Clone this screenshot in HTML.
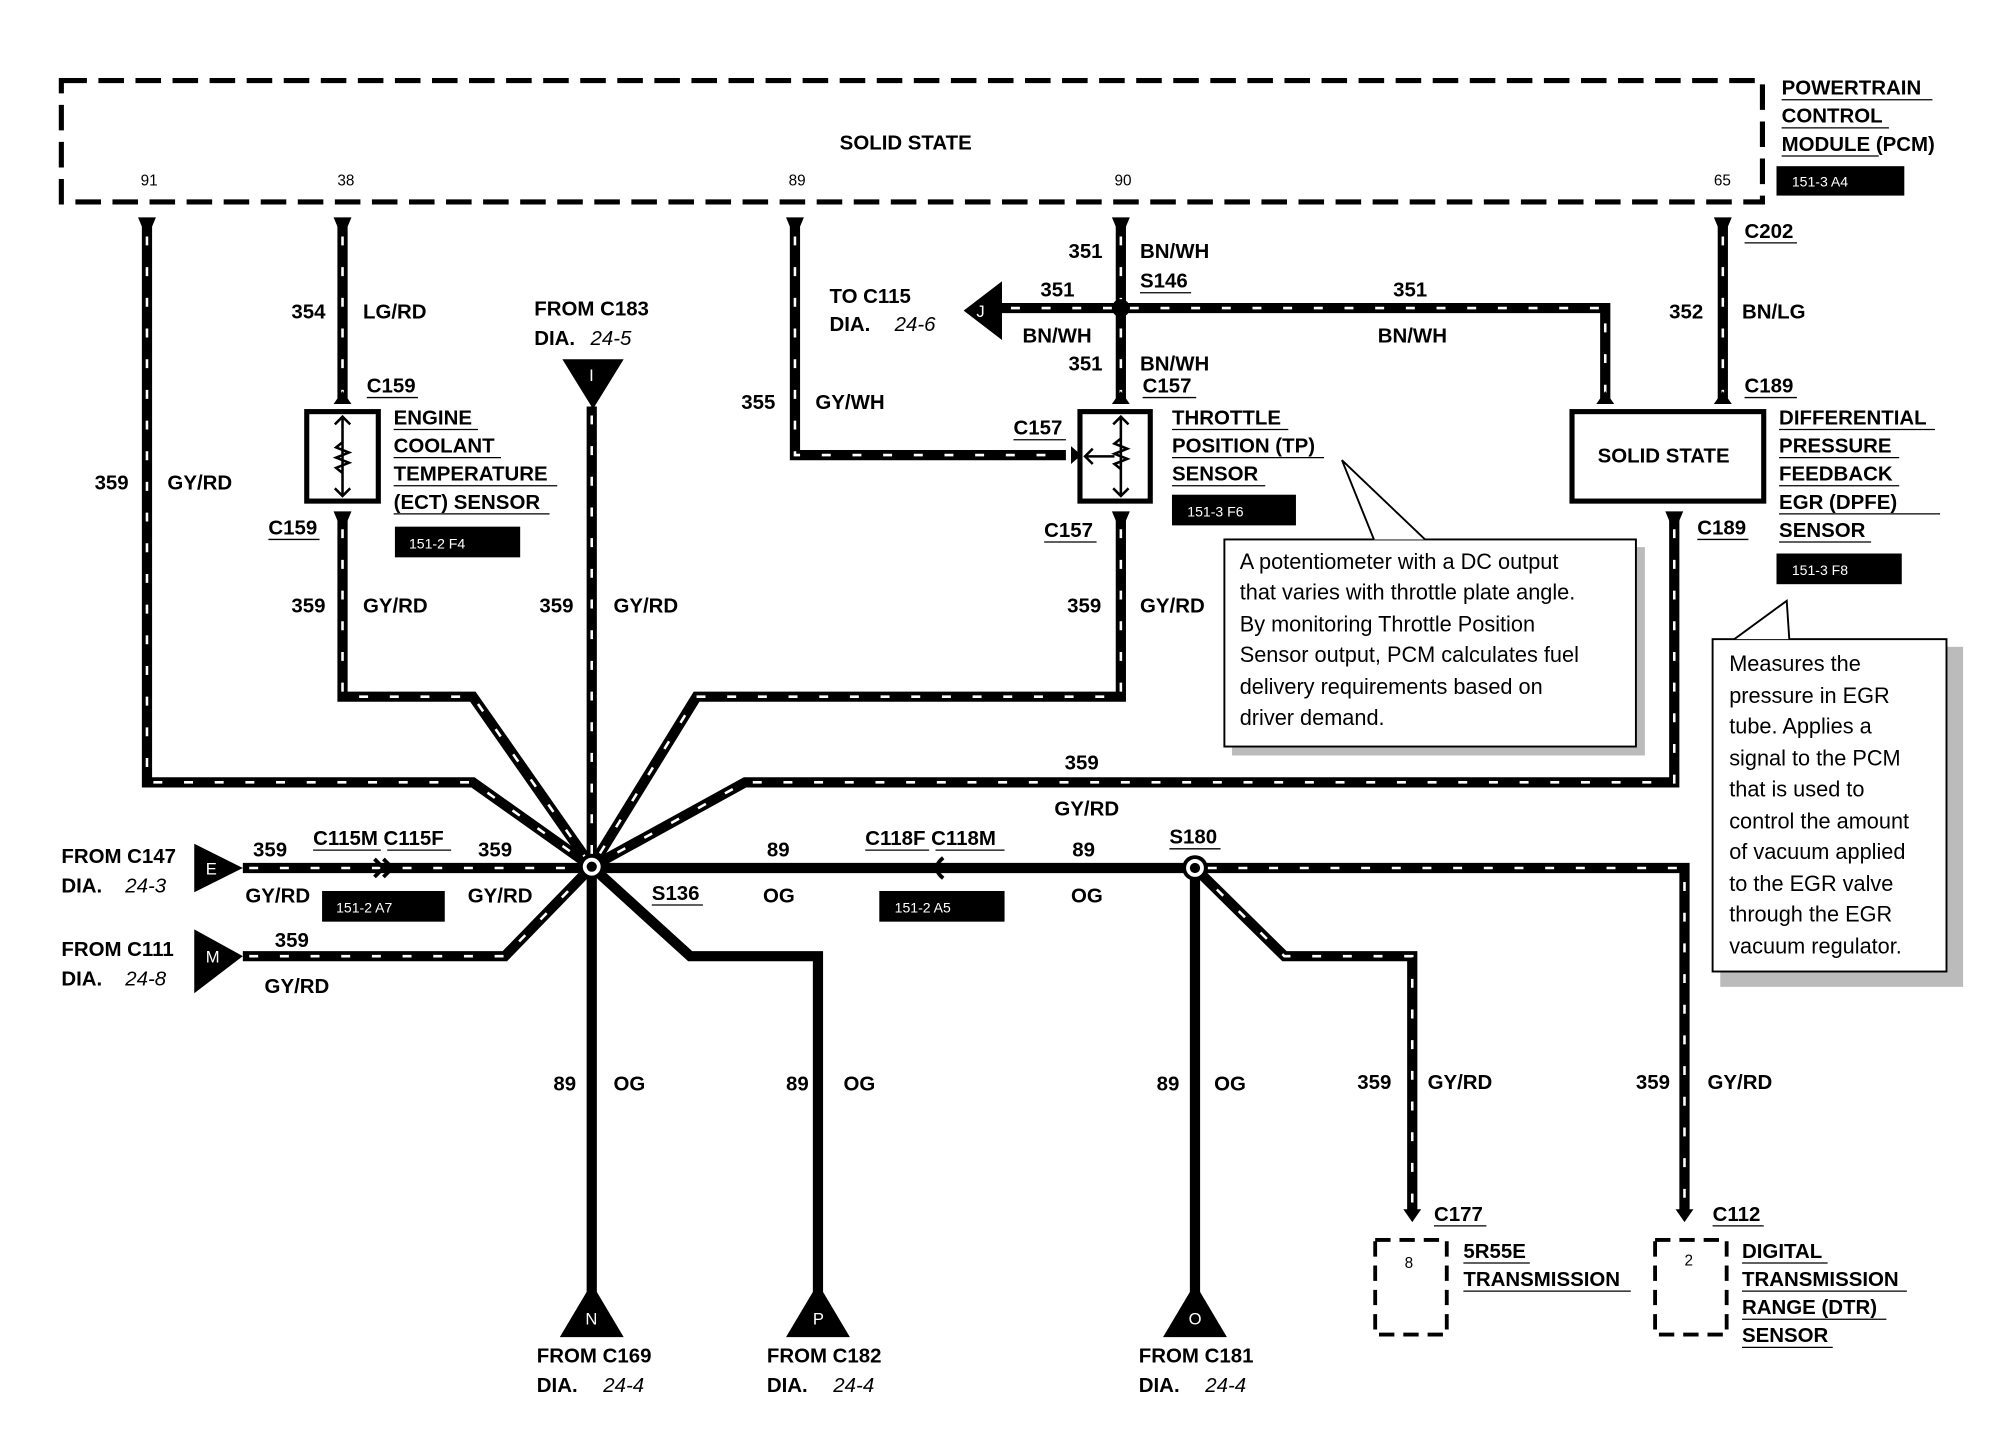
<!DOCTYPE html>
<html><head><meta charset="utf-8"><style>
html,body{margin:0;padding:0;background:#fff;}
svg{display:block;}
text{font-family:"Liberation Sans",Arial,sans-serif;font-weight:bold;font-size:16px;fill:#000;}
.n{font-weight:normal;font-size:17px;}
.i{font-style:italic;font-weight:normal;}
.w{fill:#fff;font-size:11px;font-weight:normal;}
.s{font-size:12px;font-weight:normal;}
</style></head><body>
<svg width="2004" height="1456" viewBox="0 0 1568 1139" preserveAspectRatio="none" xmlns="http://www.w3.org/2000/svg">
<!-- PCM box -->
<rect x="48" y="63" width="1331" height="95" fill="none" stroke="#000" stroke-width="4" stroke-dasharray="20 9"/>
<text x="657" y="117">SOLID STATE</text>
<text class="s" x="110" y="145">91</text><text class="s" x="264" y="145">38</text>
<text class="s" x="617" y="145">89</text><text class="s" x="872" y="145">90</text>
<text class="s" x="1341" y="145">65</text>
<text x="1394" y="74">POWERTRAIN</text><text x="1394" y="96">CONTROL</text><text x="1394" y="118">MODULE (PCM)</text>
<g stroke="#000" stroke-width="1"><line x1="1394" y1="78" x2="1512" y2="78"/><line x1="1394" y1="100" x2="1478" y2="100"/><line x1="1394" y1="122" x2="1470" y2="122"/></g>
<rect x="1390" y="130" width="100" height="23" fill="#000"/><text class="w" x="1402" y="146">151-3 A4</text>

<g fill="none" stroke-linejoin="miter">
<g stroke="#000" stroke-width="8">
<path d="M115,175 V612 H370 L463,678"/>
<path d="M268,175 V312 M268,404 V545 H370 L463,678"/>
<path d="M622,175 V356 H834"/>
<path d="M877,175 V312 M877,241 H780 M877,241 H1256 V312 M877,404 V545 H545 L463,678"/>
<path d="M1348,175 V312"/>
<path d="M1310,404 V612 H583 L463,678"/>
<path d="M463,318 V678"/>
<path d="M190,679 H463"/>
<path d="M190,748 H395 L463,678"/>
<path d="M935,679 H1318 V948"/>
<path d="M935,679 L1005,748 H1105 V948"/>
</g>
<g stroke="#fff" stroke-width="2" stroke-dasharray="7 17">
<path d="M115,185 V612 H370 L463,678"/>
<path d="M268,185 V312 M268,414 V545 H370 L463,678"/>
<path d="M622,185 V356 H834"/>
<path d="M877,185 V312 M870,241 H790 M884,241 H1256 V312 M877,414 V545 H545 L463,678"/>
<path d="M1348,185 V312"/>
<path d="M1310,414 V612 H583 L463,678"/>
<path d="M463,325 V678"/>
<path d="M195,679 H463"/>
<path d="M195,748 H395 L463,678"/>
<path d="M945,679 H1318 V948"/>
<path d="M935,679 L1005,748 H1105 V948"/>
</g>
<g stroke="#000" stroke-width="8">
<path d="M463,679 H935"/>
<path d="M463,678 V1020"/>
<path d="M463,678 L540,748 H640 V1020"/>
<path d="M935,679 V1020"/>
</g>
</g>
<g fill="#000">
<path d="M108,170 L122,170 L117,182 L113,182Z"/><path d="M261,170 L275,170 L270,182 L266,182Z"/>
<path d="M615,170 L629,170 L624,182 L620,182Z"/><path d="M870,170 L884,170 L879,182 L875,182Z"/>
<path d="M1341,170 L1355,170 L1350,182 L1346,182Z"/>
<path d="M261,400 L275,400 L270,412 L266,412Z"/><path d="M870,400 L884,400 L879,412 L875,412Z"/>
<path d="M1303,400 L1317,400 L1312,412 L1308,412Z"/>
<path d="M261,316 L268,306 L275,316Z"/><path d="M870,316 L877,306 L884,316Z"/>
<path d="M1249,316 L1256,306 L1263,316Z"/><path d="M1341,316 L1348,306 L1355,316Z"/>
<path d="M838,349 L846,356 L838,363Z"/>
<path d="M1098,946 L1105,956 L1112,946Z"/><path d="M1311,946 L1318,956 L1325,946Z"/>
</g>
<circle cx="877" cy="241" r="7" fill="#000"/>
<circle cx="463" cy="678" r="10" fill="#000"/><circle cx="463" cy="678" r="7" fill="#fff"/><circle cx="463" cy="678" r="4" fill="#000"/>
<circle cx="935" cy="679" r="10" fill="#000"/><circle cx="935" cy="679" r="7" fill="#fff"/><circle cx="935" cy="679" r="4" fill="#000"/>
<path d="M293,672 L300,679 L293,686 M300,672 L307,679 L300,686" fill="none" stroke="#000" stroke-width="3"/>
<path d="M738,671 Q728,679 738,687" fill="none" stroke="#000" stroke-width="3"/>
<rect x="240" y="322" width="56" height="70" fill="#fff" stroke="#000" stroke-width="4"/>
<path d="M268,326 V388 M262,332 L268,326 L274,332 M262,382 L268,388 L274,382 M268,346 l-5,4 l10,4 l-10,4 l10,4 l-10,4 l5,4" fill="none" stroke="#000" stroke-width="2"/>
<rect x="845" y="322" width="55" height="70" fill="#fff" stroke="#000" stroke-width="4"/>
<path d="M877,326 V388 M871,332 L877,326 L883,332 M871,382 L877,388 L883,382 M877,343 l-5,4 l10,4 l-10,4 l10,4 l-10,4 l5,4 M849,357 H872 M855,351 L849,357 L855,363" fill="none" stroke="#000" stroke-width="2"/>
<rect x="1230" y="322" width="150" height="70" fill="#fff" stroke="#000" stroke-width="4"/>
<text x="1250" y="362">SOLID STATE</text>
<path d="M440,281 L488,281 L464,320Z" fill="#000"/><text class="w" x="461" y="298" style="font-size:13px">I</text>
<path d="M784,220 L784,266 L754,243Z" fill="#000"/><text class="w" x="764" y="248" style="font-size:13px">J</text>
<path d="M152,660 L152,698 L190,679Z" fill="#000"/><text class="w" x="161" y="684" style="font-size:13px">E</text>
<path d="M152,727 L152,777 L190,748Z" fill="#000"/><text class="w" x="161" y="753" style="font-size:13px">M</text>
<path d="M438,1046 L488,1046 L463,1004Z" fill="#000"/><text class="w" x="458" y="1036" style="font-size:13px">N</text>
<path d="M615,1046 L665,1046 L640,1004Z" fill="#000"/><text class="w" x="636" y="1036" style="font-size:13px">P</text>
<path d="M910,1046 L960,1046 L935,1004Z" fill="#000"/><text class="w" x="930" y="1036" style="font-size:13px">O</text>
<rect x="1076" y="970" width="56" height="74" fill="none" stroke="#000" stroke-width="3" stroke-dasharray="12 7"/><text class="s" x="1099" y="992">8</text>
<rect x="1295" y="970" width="56" height="74" fill="none" stroke="#000" stroke-width="3" stroke-dasharray="12 7"/><text class="s" x="1318" y="990">2</text>
<rect x="964" y="428" width="323" height="163" fill="#bbb"/>
<rect x="958" y="422" width="322" height="162" fill="#fff" stroke="#000" stroke-width="1.5"/>
<path d="M1075,422 L1050,360 L1115,422" fill="#fff" stroke="#000" stroke-width="1.5"/>
<text class="n" x="970" y="445">A potentiometer with a DC output</text><text class="n" x="970" y="469">that varies with throttle plate angle.</text><text class="n" x="970" y="494">By monitoring Throttle Position</text><text class="n" x="970" y="518">Sensor output, PCM calculates fuel</text><text class="n" x="970" y="543">delivery requirements based on</text><text class="n" x="970" y="567">driver demand.</text>
<rect x="1346" y="506" width="190" height="266" fill="#bbb"/>
<rect x="1340" y="500" width="183" height="260" fill="#fff" stroke="#000" stroke-width="1.5"/>
<path d="M1357,500 L1398,470 L1400,500" fill="#fff" stroke="#000" stroke-width="1.5"/>
<text class="n" x="1353" y="525">Measures the</text><text class="n" x="1353" y="550">pressure in EGR</text><text class="n" x="1353" y="574">tube. Applies a</text><text class="n" x="1353" y="599">signal to the PCM</text><text class="n" x="1353" y="623">that is used to</text><text class="n" x="1353" y="648">control the amount</text><text class="n" x="1353" y="672">of vacuum applied</text><text class="n" x="1353" y="697">to the EGR valve</text><text class="n" x="1353" y="721">through the EGR</text><text class="n" x="1353" y="746">vacuum regulator.</text>
<text x="228" y="249">354</text><text x="284" y="249">LG/RD</text>
<text x="287" y="307">C159</text><text x="210" y="418">C159</text>
<text x="308" y="332">ENGINE</text><text x="308" y="354">COOLANT</text><text x="308" y="376">TEMPERATURE</text><text x="308" y="398">(ECT) SENSOR</text>
<rect x="309" y="412" width="98" height="24" fill="#000"/><text class="w" x="320" y="429">151-2 F4</text>
<text x="74" y="383">359</text><text x="131" y="383">GY/RD</text>
<text x="228" y="479">359</text><text x="284" y="479">GY/RD</text>
<text x="422" y="479">359</text><text x="480" y="479">GY/RD</text>
<text x="418" y="247">FROM C183</text><text x="418" y="270">DIA.</text><text class="i" x="462" y="270">24-5</text>
<text x="649" y="237">TO C115</text><text x="649" y="259">DIA.</text><text class="i" x="700" y="259">24-6</text>
<text x="580" y="320">355</text><text x="638" y="320">GY/WH</text>
<text x="836" y="202">351</text><text x="892" y="202">BN/WH</text><text x="892" y="225">S146</text>
<text x="814" y="232">351</text><text x="800" y="268">BN/WH</text>
<text x="1090" y="232">351</text><text x="1078" y="268">BN/WH</text>
<text x="836" y="290">351</text><text x="892" y="290">BN/WH</text><text x="894" y="307">C157</text>
<text x="793" y="340">C157</text><text x="817" y="420">C157</text>
<text x="917" y="332">THROTTLE</text><text x="917" y="354">POSITION (TP)</text><text x="917" y="376">SENSOR</text>
<rect x="917" y="387" width="97" height="24" fill="#000"/><text class="w" x="929" y="404">151-3 F6</text>
<text x="835" y="479">359</text><text x="892" y="479">GY/RD</text>
<text x="1365" y="186">C202</text><text x="1306" y="249">352</text><text x="1363" y="249">BN/LG</text>
<text x="1365" y="307">C189</text><text x="1328" y="418">C189</text>
<text x="1392" y="332">DIFFERENTIAL</text><text x="1392" y="354">PRESSURE</text><text x="1392" y="376">FEEDBACK</text><text x="1392" y="398">EGR (DPFE)</text><text x="1392" y="420">SENSOR</text>
<rect x="1390" y="433" width="98" height="24" fill="#000"/><text class="w" x="1402" y="450">151-3 F8</text>
<text x="833" y="602">359</text><text x="825" y="638">GY/RD</text>
<text x="48" y="675">FROM C147</text><text x="48" y="698">DIA.</text><text class="i" x="98" y="698">24-3</text>
<text x="198" y="670">359</text><text x="192" y="706">GY/RD</text>
<text x="245" y="661">C115M C115F</text>
<text x="374" y="670">359</text><text x="366" y="706">GY/RD</text>
<rect x="252" y="697" width="96" height="24" fill="#000"/><text class="w" x="263" y="714">151-2 A7</text>
<text x="48" y="748">FROM C111</text><text x="48" y="771">DIA.</text><text class="i" x="98" y="771">24-8</text>
<text x="215" y="741">359</text><text x="207" y="777">GY/RD</text>
<text x="510" y="704">S136</text>
<text x="600" y="670">89</text><text x="597" y="706">OG</text>
<text x="677" y="661">C118F C118M</text>
<rect x="688" y="697" width="98" height="24" fill="#000"/><text class="w" x="700" y="714">151-2 A5</text>
<text x="839" y="670">89</text><text x="838" y="706">OG</text>
<text x="915" y="660">S180</text>
<text x="433" y="853">89</text><text x="480" y="853">OG</text>
<text x="615" y="853">89</text><text x="660" y="853">OG</text>
<text x="905" y="853">89</text><text x="950" y="853">OG</text>
<text x="1062" y="852">359</text><text x="1117" y="852">GY/RD</text>
<text x="1280" y="852">359</text><text x="1336" y="852">GY/RD</text>
<text x="1122" y="955">C177</text><text x="1340" y="955">C112</text>
<text x="1145" y="984">5R55E</text><text x="1145" y="1006">TRANSMISSION</text>
<text x="1363" y="984">DIGITAL</text><text x="1363" y="1006">TRANSMISSION</text><text x="1363" y="1028">RANGE (DTR)</text><text x="1363" y="1050">SENSOR</text>
<text x="420" y="1066">FROM C169</text><text x="420" y="1089">DIA.</text><text class="i" x="472" y="1089">24-4</text>
<text x="600" y="1066">FROM C182</text><text x="600" y="1089">DIA.</text><text class="i" x="652" y="1089">24-4</text>
<text x="891" y="1066">FROM C181</text><text x="891" y="1089">DIA.</text><text class="i" x="943" y="1089">24-4</text>
<g stroke="#000" stroke-width="1">
<line x1="287" y1="311" x2="327" y2="311"/><line x1="210" y1="422" x2="250" y2="422"/>
<line x1="308" y1="336" x2="374" y2="336"/><line x1="308" y1="358" x2="392" y2="358"/><line x1="308" y1="380" x2="436" y2="380"/><line x1="308" y1="402" x2="430" y2="402"/>
<line x1="892" y1="229" x2="932" y2="229"/><line x1="894" y1="311" x2="936" y2="311"/>
<line x1="793" y1="344" x2="834" y2="344"/><line x1="817" y1="424" x2="858" y2="424"/>
<line x1="917" y1="336" x2="1008" y2="336"/><line x1="917" y1="358" x2="1036" y2="358"/><line x1="917" y1="380" x2="990" y2="380"/>
<line x1="1365" y1="190" x2="1406" y2="190"/><line x1="1365" y1="311" x2="1406" y2="311"/><line x1="1328" y1="422" x2="1368" y2="422"/>
<line x1="1392" y1="336" x2="1514" y2="336"/><line x1="1392" y1="358" x2="1486" y2="358"/><line x1="1392" y1="380" x2="1486" y2="380"/><line x1="1392" y1="402" x2="1518" y2="402"/><line x1="1392" y1="424" x2="1464" y2="424"/>
<line x1="245" y1="665" x2="298" y2="665"/><line x1="303" y1="665" x2="353" y2="665"/>
<line x1="510" y1="708" x2="550" y2="708"/>
<line x1="677" y1="665" x2="727" y2="665"/><line x1="732" y1="665" x2="786" y2="665"/>
<line x1="915" y1="664" x2="955" y2="664"/>
<line x1="1122" y1="959" x2="1163" y2="959"/><line x1="1340" y1="959" x2="1380" y2="959"/>
<line x1="1145" y1="988" x2="1197" y2="988"/><line x1="1145" y1="1010" x2="1276" y2="1010"/>
<line x1="1363" y1="988" x2="1430" y2="988"/><line x1="1363" y1="1010" x2="1492" y2="1010"/><line x1="1363" y1="1032" x2="1476" y2="1032"/><line x1="1363" y1="1054" x2="1434" y2="1054"/>
</g>
</svg>
</body></html>
